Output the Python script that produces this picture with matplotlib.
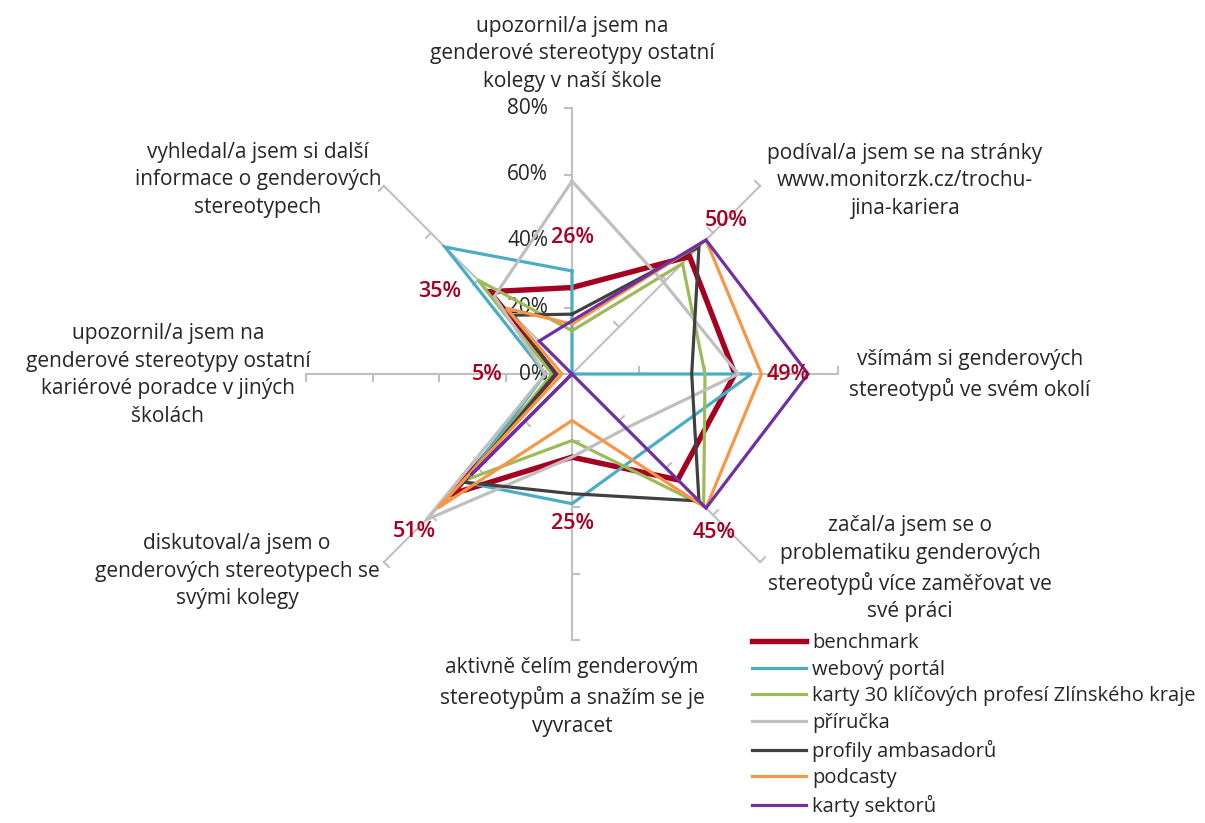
import numpy as np
import matplotlib.pyplot as plt
from matplotlib.transforms import offset_copy

# kategorie (po směru hodinových ručiček od vrcholu)
Categories = [
    'upozornil/a jsem na\ngenderové stereotypy ostatní\nkolegy v naší škole',
    'podíval/a jsem se na stránky\nwww.monitorzk.cz/trochu-\njina-kariera',
    'všímám si genderových\nstereotypů ve svém okolí',
    'začal/a jsem se o\nproblematiku genderových\nstereotypů více zaměřovat ve\nsvé práci',
    'aktivně čelím genderovým\nstereotypům a snažím se je\nvyvracet',
    'diskutoval/a jsem o\ngenderových stereotypech se\nsvými kolegy',
    'upozornil/a jsem na\ngenderové stereotypy ostatní\nkariérové poradce v jiných\nškolách',
    'vyhledal/a jsem si další\ninformace o genderových\nstereotypech',
]

SeriesNames = ['benchmark', 'webový portál', 'karty 30 klíčových profesí Zlínského kraje',
               'příručka', 'profily ambasadorů', 'podcasty', 'karty sektorů']

Benchmark = [26, 50, 49, 45, 25, 51, 5, 35]
WebPortal = [31, 0, 54, 32, 39, 46, 8, 54]
Karty30 = [13, 47, 40, 56, 20, 45, 6, 40]
Prirucka = [58, 39, 50, 23, 25, 62, 8, 33]
Profily = [18, 54, 36, 54, 36, 46, 5, 25]
Podcasty = [15, 57, 57, 57, 14, 57, 3, 28]
KartySektoru = [16, 57, 71, 57, 0, 43, 0, 14]

RadialTicks = [0, 20, 40, 60, 80]
TickLabels = ['0%', '20%', '40%', '60%', '80%']

Colors = ['#A50021', '#4BACC6', '#9BBB59', '#BFBFBF', '#404040', '#F79646', '#7030A0']
Widths = [3.9, 2.3, 2.3, 2.3, 2.3, 2.3, 2.3]

# pozice popisků benchmarku (úhel ve stupních, poloměr v %)
LabelPos = [(0, 41), (45, 65.5), (90, 65), (138, 64), (180, 45), (225, 67), (270, 25.5), (302, 47)]

# středy popisků kategorií v pixelech
CatPos = [(572, 54), (905, 181), (970, 375), (910, 569), (572, 697), (237, 571), (168, 375), (258, 180)]

plt.rcParams['font.family'] = ['Open Sans', 'DejaVu Sans']
TextColor = '#262626'
FS = 15

W, H = 1205, 823
fig = plt.figure(figsize=(W / 100, H / 100), dpi=100)
cx, cy, R = 572, 374, 266
ax = fig.add_axes([(cx - R) / W, 1 - (cy + R) / H, 2 * R / W, 2 * R / H], projection='polar')
ax.set_theta_zero_location('N')
ax.set_theta_direction(-1)
ax.set_ylim(0, 80)
ax.grid(False)
ax.set_xticks([])
ax.set_yticks([])
ax.spines['polar'].set_visible(False)
ax.patch.set_alpha(0)

N = len(Categories)
Angles = np.arange(N) * 2 * np.pi / N

# paprsky os s dílky
h = 2.1
for a in Angles:
    ax.plot([a, a], [0, 80], color='#C0C0C0', lw=1.5, zorder=1, clip_on=False)
    for r in RadialTicks[1:]:
        ax.plot([a, a - np.arctan(h / r)], [r, np.hypot(r, h)], color='#C0C0C0', lw=1.5,
                zorder=1, clip_on=False)

trans = offset_copy(ax.transData, fig=fig, x=-24, y=0, units='dots')
for r, lab in zip(RadialTicks, TickLabels):
    ax.text(0, r, lab, transform=trans, ha='right', va='center', fontsize=FS, color=TextColor)

AllSeries = [Benchmark, WebPortal, Karty30, Prirucka, Profily, Podcasty, KartySektoru]
closed = np.append(Angles, Angles[0])
for i, (vals, name) in enumerate(zip(AllSeries, SeriesNames)):
    v = vals + [vals[0]]
    ax.plot(closed, v, color=Colors[i], lw=Widths[i], label=name, zorder=3 + i,
            solid_joinstyle='miter', clip_on=False)

for (deg, r), val in zip(LabelPos, Benchmark):
    ax.text(np.deg2rad(deg), r, f'{val}%', ha='center', va='center', fontsize=15.5,
            color='#A50021', fontweight='semibold', zorder=20)

for (px, py), txt in zip(CatPos, Categories):
    fig.text(px / W, 1 - py / H, txt, ha='center', va='center', fontsize=FS,
             color=TextColor, linespacing=1.42)

leg = fig.legend(loc='upper left', bbox_to_anchor=(752 / W, 1 - 633 / H), frameon=False,
                 fontsize=14.5, handlelength=2.7, handletextpad=0.3, labelspacing=0.33,
                 borderpad=0, borderaxespad=0)
for t in leg.get_texts():
    t.set_color(TextColor)

fig.savefig('out.png', dpi=100)
